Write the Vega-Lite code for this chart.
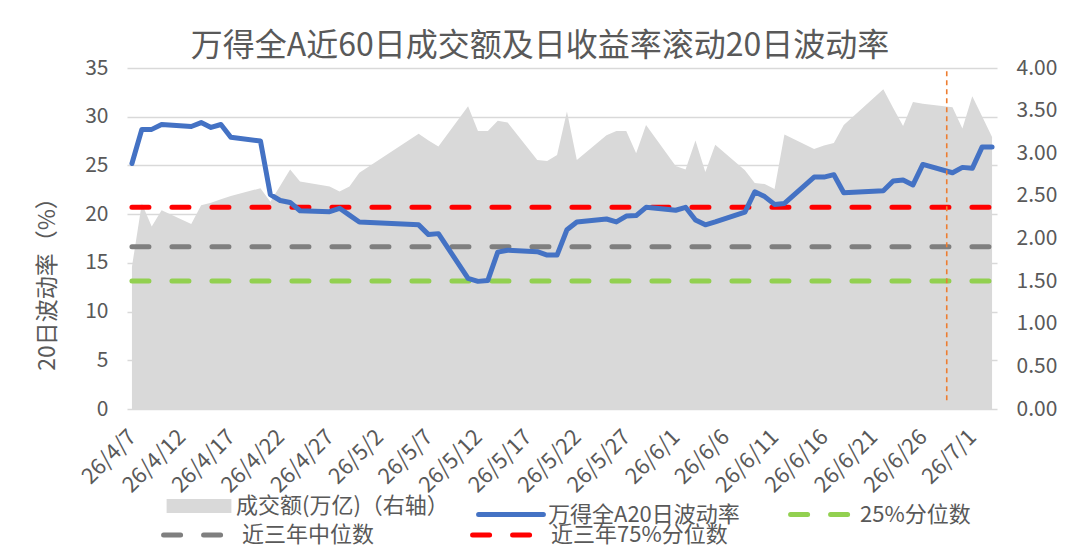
{
  "$schema": "https://vega.github.io/schema/vega-lite/v6.json",
  "description": "万得全A近60日成交额及日收益率滚动20日波动率",
  "width": 870,
  "height": 341,
  "autosize": "none",
  "padding": {"left": 127, "top": 68, "right": 83, "bottom": 138},
  "background": "white",
  "title": {
    "text": "万得全A近60日成交额及日收益率滚动20日波动率",
    "fontSize": 32,
    "fontWeight": "normal",
    "color": "#595959",
    "offset": 6,
    "dx": -22,
    "dy": 12
  },
  "datasets": {
    "daily": [
      {"date": "2026/04/07", "amt": 1.67, "vol": 25.2},
      {"date": "2026/04/08", "amt": 2.41, "vol": 28.7},
      {"date": "2026/04/09", "amt": 2.14, "vol": 28.7},
      {"date": "2026/04/10", "amt": 2.33, "vol": 29.2},
      {"date": "2026/04/13", "amt": 2.17, "vol": 29.0},
      {"date": "2026/04/14", "amt": 2.39, "vol": 29.4},
      {"date": "2026/04/15", "amt": 2.42, "vol": 28.9},
      {"date": "2026/04/16", "amt": 2.46, "vol": 29.2},
      {"date": "2026/04/17", "amt": 2.5, "vol": 27.9},
      {"date": "2026/04/20", "amt": 2.59, "vol": 27.5},
      {"date": "2026/04/21", "amt": 2.43, "vol": 22.0},
      {"date": "2026/04/22", "amt": 2.62, "vol": 21.4},
      {"date": "2026/04/23", "amt": 2.81, "vol": 21.2},
      {"date": "2026/04/24", "amt": 2.67, "vol": 20.35},
      {"date": "2026/04/27", "amt": 2.61, "vol": 20.25},
      {"date": "2026/04/28", "amt": 2.55, "vol": 20.6},
      {"date": "2026/04/29", "amt": 2.61, "vol": 19.9},
      {"date": "2026/04/30", "amt": 2.77, "vol": 19.2},
      {"date": "2026/05/06", "amt": 3.23, "vol": 18.9},
      {"date": "2026/05/07", "amt": 3.15, "vol": 17.9},
      {"date": "2026/05/08", "amt": 3.08, "vol": 18.0},
      {"date": "2026/05/11", "amt": 3.55, "vol": 13.4},
      {"date": "2026/05/12", "amt": 3.26, "vol": 13.1},
      {"date": "2026/05/13", "amt": 3.26, "vol": 13.2},
      {"date": "2026/05/14", "amt": 3.38, "vol": 16.1},
      {"date": "2026/05/15", "amt": 3.36, "vol": 16.3},
      {"date": "2026/05/18", "amt": 2.92, "vol": 16.15},
      {"date": "2026/05/19", "amt": 2.91, "vol": 15.8},
      {"date": "2026/05/20", "amt": 2.98, "vol": 15.8},
      {"date": "2026/05/21", "amt": 3.49, "vol": 18.4},
      {"date": "2026/05/22", "amt": 2.92, "vol": 19.2},
      {"date": "2026/05/25", "amt": 3.21, "vol": 19.5},
      {"date": "2026/05/26", "amt": 3.26, "vol": 19.2},
      {"date": "2026/05/27", "amt": 3.26, "vol": 19.8},
      {"date": "2026/05/28", "amt": 3.0, "vol": 19.85},
      {"date": "2026/05/29", "amt": 3.33, "vol": 20.7},
      {"date": "2026/06/01", "amt": 2.85, "vol": 20.4},
      {"date": "2026/06/02", "amt": 2.81, "vol": 20.7},
      {"date": "2026/06/03", "amt": 3.15, "vol": 19.4},
      {"date": "2026/06/04", "amt": 2.78, "vol": 18.9},
      {"date": "2026/06/05", "amt": 3.1, "vol": 19.2},
      {"date": "2026/06/08", "amt": 2.8, "vol": 20.2},
      {"date": "2026/06/09", "amt": 2.65, "vol": 22.3},
      {"date": "2026/06/10", "amt": 2.64, "vol": 21.8},
      {"date": "2026/06/11", "amt": 2.58, "vol": 21.0},
      {"date": "2026/06/12", "amt": 3.22, "vol": 21.1},
      {"date": "2026/06/15", "amt": 3.05, "vol": 23.8},
      {"date": "2026/06/16", "amt": 3.09, "vol": 23.8},
      {"date": "2026/06/17", "amt": 3.12, "vol": 24.05},
      {"date": "2026/06/18", "amt": 3.33, "vol": 22.2},
      {"date": "2026/06/22", "amt": 3.75, "vol": 22.4},
      {"date": "2026/06/23", "amt": 3.53, "vol": 23.4},
      {"date": "2026/06/24", "amt": 3.32, "vol": 23.5},
      {"date": "2026/06/25", "amt": 3.6, "vol": 23.0},
      {"date": "2026/06/26", "amt": 3.58, "vol": 25.1},
      {"date": "2026/06/29", "amt": 3.54, "vol": 24.25},
      {"date": "2026/06/30", "amt": 3.29, "vol": 24.8},
      {"date": "2026/07/01", "amt": 3.67, "vol": 24.7},
      {"date": "2026/07/02", "amt": 3.43, "vol": 26.9},
      {"date": "2026/07/03", "amt": 3.19, "vol": 26.9}
    ],
    "quartile": [
      {"name": "25%分位数", "v": 13.14, "start": "2026/04/07", "end": "2026/07/03"}
    ],
    "history": [
      {"name": "近三年中位数", "v": 16.66, "start": "2026/04/07", "end": "2026/07/03"},
      {"name": "近三年75%分位数", "v": 20.7, "start": "2026/04/07", "end": "2026/07/03"}
    ],
    "marker": [
      {"date": "2026/06/28 10:00", "low": 0.9, "high": 34.8}
    ]
  },
  "encoding": {
    "x": {
      "field": "date",
      "type": "temporal",
      "title": null,
      "scale": {
        "domain": [
          {"year": 2026, "month": 4, "date": 6, "hours": 12},
          {"year": 2026, "month": 7, "date": 3, "hours": 12}
        ]
      },
      "axis": {
        "values": [
          {"year": 2026, "month": 4, "date": 7},
          {"year": 2026, "month": 4, "date": 12},
          {"year": 2026, "month": 4, "date": 17},
          {"year": 2026, "month": 4, "date": 22},
          {"year": 2026, "month": 4, "date": 27},
          {"year": 2026, "month": 5, "date": 2},
          {"year": 2026, "month": 5, "date": 7},
          {"year": 2026, "month": 5, "date": 12},
          {"year": 2026, "month": 5, "date": 17},
          {"year": 2026, "month": 5, "date": 22},
          {"year": 2026, "month": 5, "date": 27},
          {"year": 2026, "month": 6, "date": 1},
          {"year": 2026, "month": 6, "date": 6},
          {"year": 2026, "month": 6, "date": 11},
          {"year": 2026, "month": 6, "date": 16},
          {"year": 2026, "month": 6, "date": 21},
          {"year": 2026, "month": 6, "date": 26},
          {"year": 2026, "month": 7, "date": 1}
        ],
        "format": "%y/%-m/%-d",
        "labelAngle": -45,
        "labelAlign": "right",
        "labelBaseline": "middle",
        "labelPadding": 24,
        "labelFontSize": 22,
        "labelColor": "#595959",
        "labelOverlap": false,
        "labelFlush": false,
        "ticks": false,
        "domain": false,
        "grid": false
      }
    }
  },
  "layer": [
    {
      "data": {"name": "daily"},
      "mark": {"type": "area", "opacity": 1, "interpolate": "linear"},
      "encoding": {
        "y": {
          "field": "amt",
          "type": "quantitative",
          "title": null,
          "scale": {"domain": [0, 4], "nice": false},
          "axis": {
            "orient": "right",
            "values": [0, 0.5, 1, 1.5, 2, 2.5, 3, 3.5, 4],
            "format": ".2f",
            "grid": false,
            "ticks": false,
            "domain": false,
            "labelFontSize": 21,
            "labelColor": "#595959",
            "labelPadding": 19
          }
        },
        "color": {"datum": "成交额(万亿)（右轴）"}
      }
    },
    {
      "layer": [
        {
          "data": {"name": "quartile"},
          "mark": {"type": "rule", "strokeWidth": 5, "strokeDash": [17, 23], "strokeCap": "round"},
          "encoding": {
            "x": {"field": "start", "type": "temporal"},
            "x2": {"field": "end"},
            "y": {
              "field": "v",
              "type": "quantitative",
              "title": "20日波动率（%）",
              "scale": {"domain": [0, 35], "nice": false},
              "axis": {
                "orient": "left",
                "values": [0, 5, 10, 15, 20, 25, 30, 35],
                "grid": true,
                "gridColor": "#d9d9d9",
                "gridWidth": 1.3,
                "ticks": false,
                "domain": false,
                "labelFontSize": 21,
                "labelColor": "#595959",
                "labelPadding": 19,
                "titleFontSize": 23,
                "titleFontWeight": "normal",
                "titleColor": "#595959",
                "titleX": -68,
                "titleY": 210
              }
            },
            "color": {
              "field": "name",
              "type": "nominal",
              "scale": {
                "domain": ["成交额(万亿)（右轴）", "万得全A20日波动率", "25%分位数"],
                "range": ["#d9d9d9", "#4472c4", "#92d050"]
              },
              "legend": {
                "legendX": 61,
                "legendY": 427,
                "columnPadding": 19,
                "encode": {
                  "symbols": {
                    "update": {
                      "fill": {"value": "transparent"},
                      "stroke": {"signal": "scale('color', datum.value)"},
                      "strokeWidth": {"signal": "datum.value === '成交额(万亿)（右轴）' ? 14 : 5"},
                      "strokeDash": {"signal": "datum.value === '25%分位数' ? [17, 23] : [1, 0]"},
                      "strokeCap": {"signal": "datum.value === '成交额(万亿)（右轴）' ? 'butt' : 'round'"},
                      "opacity": {"value": 1}
                    }
                  }
                }
              }
            }
          }
        },
        {
          "data": {"name": "history"},
          "mark": {"type": "rule", "strokeWidth": 5, "strokeDash": [17, 23], "strokeCap": "round"},
          "encoding": {
            "x": {"field": "start", "type": "temporal"},
            "x2": {"field": "end"},
            "y": {"field": "v", "type": "quantitative", "title": "20日波动率（%）"},
            "stroke": {
              "field": "name",
              "type": "nominal",
              "scale": {
                "domain": ["近三年中位数", "近三年75%分位数"],
                "range": ["#7f7f7f", "#ff0000"]
              },
              "legend": {
                "legendX": 34,
                "legendY": 432,
                "columnPadding": 43,
                "labelOffset": 11,
                "encode": {
                  "symbols": {
                    "update": {
                      "fill": {"value": "transparent"},
                      "stroke": {"signal": "scale('stroke', datum.value)"},
                      "strokeWidth": {"value": 5},
                      "strokeDash": {"value": [17, 23]},
                      "strokeCap": {"value": "round"},
                      "opacity": {"value": 1}
                    }
                  }
                }
              }
            }
          }
        },
        {
          "data": {"name": "daily"},
          "mark": {"type": "line", "strokeWidth": 5, "strokeJoin": "round", "strokeCap": "round"},
          "encoding": {
            "y": {"field": "vol", "type": "quantitative", "title": "20日波动率（%）"},
            "color": {"datum": "万得全A20日波动率"}
          }
        },
        {
          "data": {"name": "marker"},
          "mark": {"type": "rule", "color": "#ed7d31", "strokeWidth": 1.6, "strokeDash": [5, 4]},
          "encoding": {
            "x": {"field": "date", "type": "temporal"},
            "y": {"field": "low", "type": "quantitative", "title": "20日波动率（%）"},
            "y2": {"field": "high"}
          }
        }
      ]
    }
  ],
  "resolve": {"scale": {"y": "independent"}},
  "config": {
    "font": "Noto Sans CJK SC",
    "view": {"stroke": null},
    "legend": {
      "orient": "none",
      "direction": "horizontal",
      "columns": 3,
      "gridAlign": "all",
      "rowPadding": 0,
      "title": null,
      "symbolType": "stroke",
      "symbolSize": 4200,
      "labelFontSize": 22,
      "labelColor": "#595959",
      "labelOffset": 26,
      "labelLimit": 400,
      "padding": 0
    }
  }
}
